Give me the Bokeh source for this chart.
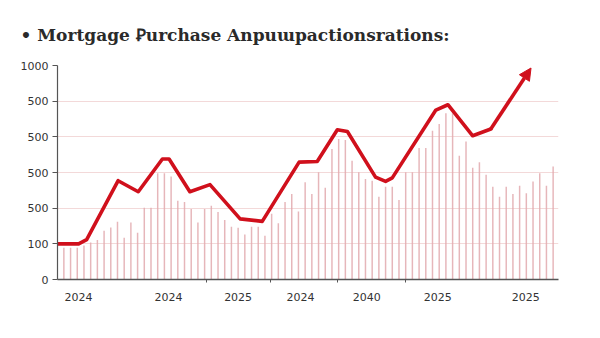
from bokeh.plotting import figure
from bokeh.models import FixedTicker, Arrow, NormalHead, Range1d
from bokeh.embed import file_html
from bokeh.resources import INLINE

# ---- data ----
bar_values = [89, 89, 89, 95, 104, 111, 137, 146, 162, 117, 160, 131, 201, 201, 298, 298, 289, 221,
              217, 198, 160, 198, 207, 189, 167, 148, 145, 126, 148, 148, 123, 184, 158, 217, 240,
              191, 273, 240, 301, 257, 366, 394, 391, 333, 301, 282, 277, 232, 260, 260, 223, 301,
              301, 369, 369, 417, 436, 466, 466, 347, 387, 313, 329, 294, 260, 232, 260, 240, 263,
              242, 275, 298, 263, 317]
bar_x = list(range(len(bar_values)))

line_x = [-0.95, 2.2, 3.4, 8.1, 11.1, 14.7, 15.7, 18.8, 21.8, 26.3, 29.6, 35.1, 37.8, 40.8, 42.3,
          46.5, 48.0, 49.0, 55.5, 57.3, 61.0, 63.7, 69.7]
line_y = [100, 100, 112, 277, 246, 338, 338, 246, 266, 170, 163, 329, 331, 420, 415, 287, 275,
          285, 475, 490, 403, 422, 593]

y_ticks = [0, 100, 200, 300, 400, 500, 600]
y_labels = ["0", "100", "500", "500", "500", "500", "1000"]
x_ticks = [2.2, 15.6, 26.0, 35.3, 45.2, 55.8, 68.9]
x_labels = ["2024", "2024", "2025", "2024", "2040", "2025", "2025"]
x_minor = [21.3, 30.9, 40.9, 51.0]

title_text = "\u2022 Mortgage \uA750urchase Anpu\u026fpactionsrations:"

RED = "#d0101c"

p = figure(width=600, height=338, output_backend="svg", toolbar_location=None,
           x_range=Range1d(-0.95, 73.8), y_range=Range1d(0, 600),
           min_border_left=57, min_border_right=42, min_border_top=65, min_border_bottom=59)
p.outline_line_color = None
p.background_fill_color = "white"

p.title.text = title_text
p.title.text_font = "DejaVu Serif"
p.title.text_font_style = "bold"
p.title.text_font_size = "17px"
p.title.text_color = "#2a2a2a"
p.title.offset = -37
p.title.standoff = 41

# grid
p.xgrid.grid_line_color = None
p.ygrid.grid_line_color = "#f3d9d9"
p.ygrid.grid_line_width = 1

# bars
p.vbar(x=bar_x, top=bar_values, width=0.22, fill_color="#e2a9ae", line_color=None, fill_alpha=0.85)

# line
p.line(line_x[:-1], line_y[:-1], line_color=RED, line_width=3.6, line_join="round", line_cap="round")
p.add_layout(Arrow(end=NormalHead(size=12, fill_color=RED, line_color=RED),
                   x_start=line_x[-2], y_start=line_y[-2], x_end=line_x[-1], y_end=line_y[-1],
                   line_color=RED, line_width=3.6))

# axes
yax = p.yaxis[0]
yax.ticker = FixedTicker(ticks=y_ticks)
yax.major_label_overrides = {t: l for t, l in zip(y_ticks, y_labels)}
yax.axis_line_color = "#555555"
yax.axis_line_width = 1.2
yax.major_tick_line_color = "#555555"
yax.major_tick_out = 5
yax.major_tick_in = 0
yax.minor_tick_line_color = None
yax.major_label_text_font = "DejaVu Sans"
yax.major_label_text_font_size = "11px"
yax.major_label_text_color = "#333333"
yax.major_label_standoff = 4

xax = p.xaxis[0]
xax.ticker = FixedTicker(ticks=x_ticks, minor_ticks=x_minor)
xax.major_label_overrides = {t: l for t, l in zip(x_ticks, x_labels)}
xax.axis_line_color = "#555555"
xax.axis_line_width = 1.5
xax.major_tick_line_color = None
xax.minor_tick_line_color = "#555555"
xax.minor_tick_out = 3
xax.minor_tick_in = 0
xax.major_label_text_font = "DejaVu Sans"
xax.major_label_text_font_size = "11px"
xax.major_label_text_color = "#333333"
xax.major_label_standoff = 7

open("out.html", "w").write(file_html(p, INLINE))
